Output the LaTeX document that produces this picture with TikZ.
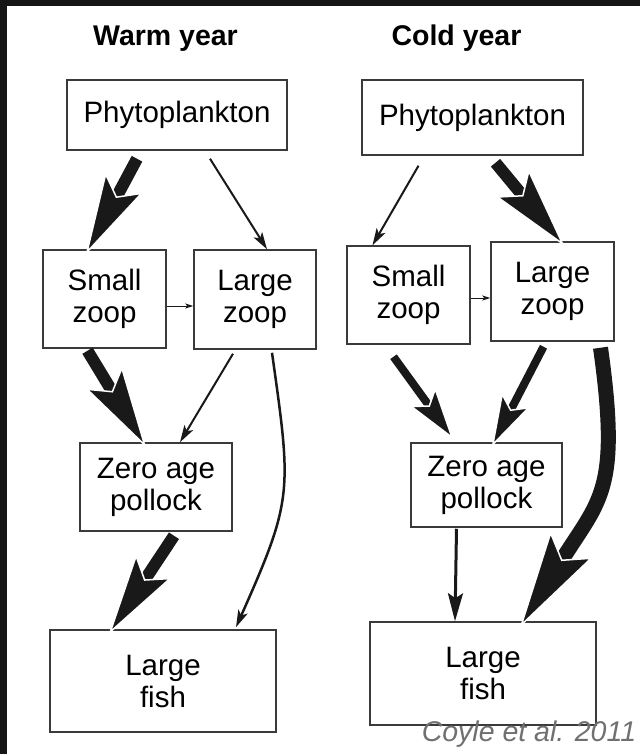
\documentclass[tikz,border=0pt]{standalone}
\usepackage{fontspec}
\setmainfont{Liberation Sans}
\usepackage{tikz}
\usetikzlibrary{arrows.meta}

\definecolor{framegray}{HTML}{151515}
\definecolor{boxgray}{HTML}{3A3A3A}
\definecolor{notegray}{HTML}{707070}

\tikzset{
  foodbox/.style={draw=boxgray, line width=1.5pt, align=center, inner sep=0pt,
    font=\fontsize{29.5}{32}\selectfont},
  yeartitle/.style={font=\fontsize{28.5}{32}\selectfont\bfseries, anchor=base},
  tinyflow/.style={draw=black!90, line width=0.8pt, -{Stealth[length=8pt,width=5pt,inset=2pt]}},
  lightflow/.style={draw=black!90, line width=2pt, -{Stealth[length=17pt,width=10pt,inset=4pt]}},
  midflow/.style={draw=black!90, line width=8pt, shorten >=-5pt,
    -{Stealth[length=53pt,width=32pt,inset=11pt,color=white,fill=black!90,line width=1.5pt]}},
  fatflow/.style={draw=black!90, line width=12pt, shorten >=-6pt,
    -{Stealth[length=82pt,width=43pt,inset=16pt,color=white,fill=black!90,line width=1.5pt]}},
  hugeflow/.style={draw=black!90, line width=15pt, shorten >=-6pt,
    -{Stealth[length=98pt,width=50pt,inset=18pt,color=white,fill=black!90,line width=1.5pt]}},
}

\begin{document}
\begin{tikzpicture}[x=1pt, y=-1pt]
\useasboundingbox (0,0) rectangle (640,754);
\fill[white] (0,0) rectangle (640,754);
\fill[framegray] (0,0) rectangle (640,6);
\fill[framegray] (0,0) rectangle (7,754);

% warm year
\node[yeartitle] (wtitle) at (165.5,46) {Warm year};
\node[foodbox, minimum width=220pt, minimum height=70pt] (wphyto) at (177,115) {Phytoplankton};
\node[foodbox, minimum width=123pt, minimum height=98pt] (wsmall) at (104.5,299) {Small\\zoop};
\node[foodbox, minimum width=122pt, minimum height=99pt] (wlarge) at (255,299.5) {Large\\zoop};
\node[foodbox, minimum width=152pt, minimum height=88pt] (wpoll) at (156,487) {Zero age\\pollock};
\node[foodbox, minimum width=226pt, minimum height=102pt] (wfish) at (163,681) {Large\\fish};

\draw[fatflow] ([xshift=-40pt,yshift=-8pt]wphyto.south) -- ([xshift=-16pt]wsmall.north);
\draw[lightflow] ([xshift=33pt,yshift=-8pt]wphyto.south) -- ([xshift=12pt]wlarge.north);
\draw[tinyflow] ([yshift=-7pt]wsmall.east) -- ([yshift=-6.5pt]wlarge.west);
\draw[fatflow] ([xshift=-17pt,yshift=-2pt]wsmall.south) -- ([xshift=-13pt]wpoll.north);
\draw[lightflow] ([xshift=-22pt,yshift=-4pt]wlarge.south) -- ([xshift=24pt]wpoll.north);
\draw[lightflow, line width=2.5pt] ([xshift=17pt,yshift=-3pt]wlarge.south)
  to[out=-82, in=66, looseness=1.3] ([xshift=73pt,yshift=2pt]wfish.north);
\draw[fatflow] ([xshift=18pt,yshift=-4pt]wpoll.south) -- ([xshift=-51pt]wfish.north);

% cold year
\node[yeartitle] (ctitle) at (456.5,46) {Cold year};
\node[foodbox, minimum width=221pt, minimum height=75pt] (cphyto) at (472.5,117.5) {Phytoplankton};
\node[foodbox, minimum width=123pt, minimum height=98pt] (csmall) at (408.5,295) {Small\\zoop};
\node[foodbox, minimum width=123pt, minimum height=99pt] (clarge) at (552.5,291.5) {Large\\zoop};
\node[foodbox, minimum width=151pt, minimum height=84pt] (cpoll) at (486.5,485) {Zero age\\pollock};
\node[foodbox, minimum width=226pt, minimum height=103pt] (cfish) at (483,673.5) {Large\\fish};

\draw[lightflow] ([xshift=-54pt,yshift=-10pt]cphyto.south) -- ([xshift=-36pt]csmall.north);
\draw[fatflow] ([xshift=23pt,yshift=-7pt]cphyto.south) -- ([xshift=8pt]clarge.north);
\draw[tinyflow] ([yshift=-3pt]csmall.east) -- ([yshift=-6.5pt]clarge.west);
\draw[midflow] ([xshift=-15pt,yshift=-12pt]csmall.south) -- ([xshift=-36pt,yshift=7pt]cpoll.north);
\draw[midflow] ([xshift=-9pt,yshift=-5pt]clarge.south) -- ([xshift=7.5pt]cpoll.north);
\draw[hugeflow] ([xshift=48pt,yshift=-6pt]clarge.south)
  to[out=-82, in=58, looseness=1.3] ([xshift=40pt,yshift=-1pt]cfish.north);
\draw[draw=black!90, line width=3pt, -{Stealth[length=28pt,width=15pt,inset=5pt]}]
  ([xshift=-30pt,yshift=-1pt]cpoll.south) -- ([xshift=-28pt]cfish.north);

\node[font=\fontsize{28.5}{32}\selectfont\itshape, text=notegray, anchor=base] (source) at (529,741) {Coyle et al. 2011};
\end{tikzpicture}
\end{document}
